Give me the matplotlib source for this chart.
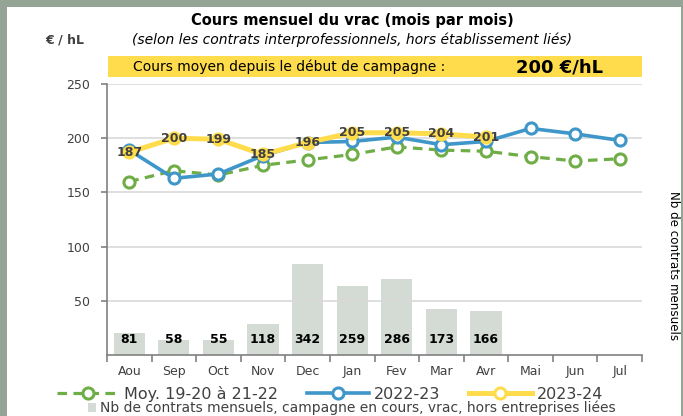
import matplotlib
matplotlib.use("Agg")
import matplotlib.pyplot as plt
from matplotlib.patches import Rectangle
from matplotlib.lines import Line2D

months = ['Aou', 'Sep', 'Oct', 'Nov', 'Dec', 'Jan', 'Fev', 'Mar', 'Avr', 'Mai', 'Jun', 'Jul']
moy_19_22 = [160, 170, 166, 175, 180, 185, 192, 189, 188, 183, 179, 181]
camp_2223 = [189, 163, 167, 184, 196, 197, 201, 194, 197, 209, 204, 198]
camp_2324 = [187, 200, 199, 185, 196, 205, 205, 204, 201]
nb_contrats = [81, 58, 55, 118, 342, 259, 286, 173, 166]
y_ticks = [50, 100, 150, 200, 250]

GREEN = '#6fad46'
BLUE = '#3f96c8'
YELLOW = '#fedc4c'
BAR = '#d4dbd4'
BORDER = '#94a596'
TXT = '#404040'

plt.rcParams['font.family'] = ['DejaVu Sans']

fig = plt.figure(figsize=(6.83, 4.16), dpi=100)
fig.patch.set_facecolor(BORDER)
fig.patches.append(Rectangle((7 / 683, 0), 674 / 683, 409 / 416, transform=fig.transFigure,
                             facecolor='white', edgecolor='none', zorder=-5))

ax = fig.add_axes([107 / 683, 61 / 416, 535 / 683, 271 / 416])
x = list(range(len(months)))

# lines
ax.plot(x, moy_19_22, color=GREEN, lw=2.3, ls=(0, (3, 2)), marker='o', ms=8,
        mfc='white', mec=GREEN, mew=2.2, zorder=3)
ax.plot(x, camp_2223, color=BLUE, lw=2.6, marker='o', ms=8,
        mfc='white', mec=BLUE, mew=2.2, zorder=4)
x24 = x[:len(camp_2324)]
ax.plot(x24, camp_2324, color=YELLOW, lw=3.6, marker='o', ms=8,
        mfc=YELLOW, mec=YELLOW, mew=2.2, zorder=5)
for xi, v in zip(x24, camp_2324):
    ax.text(xi, v, str(v), ha='center', va='center', fontsize=9, fontweight='bold',
            color=TXT, zorder=6)

ax.set_xlim(-0.5, len(months) - 0.5)
ax.set_ylim(0, 250)
ax.set_yticks(y_ticks)
ax.set_yticklabels([str(t) for t in y_ticks], fontsize=9, color=TXT)
ax.yaxis.grid(True, color='#d9d9d9', lw=1.2)
ax.set_axisbelow(True)
ax.set_xticks(x)
ax.set_xticklabels(months, fontsize=9, color=TXT)
ax.set_xticks([i - 0.5 for i in range(len(months) + 1)], minor=True)
ax.tick_params(axis='x', which='major', length=0, pad=7)
ax.tick_params(axis='x', which='minor', length=5, color='#808080', width=1.2)
ax.tick_params(axis='y', length=4, color='#808080', width=1.2, pad=8)
for s in ['top', 'right']:
    ax.spines[s].set_visible(False)
for s in ['left', 'bottom']:
    ax.spines[s].set_color('#808080')
    ax.spines[s].set_linewidth(1.2)

# bars on second axis
ax2 = ax.twinx()
xb = x[:len(nb_contrats)]
ax2.bar(xb, nb_contrats, width=0.7, color=BAR, zorder=1)
for xi, v in zip(xb, nb_contrats):
    ax2.text(xi, 60, str(v), ha='center', va='center', fontsize=9, fontweight='bold', color='black')
ax2.set_ylim(0, 1020)
ax2.set_yticks([])
for s in ax2.spines.values():
    s.set_visible(False)
ax2.set_zorder(1)
ax.set_zorder(2)
ax.patch.set_visible(False)

# titles
fig.text(352 / 683, 1 - 20 / 416, 'Cours mensuel du vrac (mois par mois)', ha='center', va='center',
         fontsize=10.5, fontweight='bold', color='black')
fig.text(352 / 683, 1 - 40 / 416, '(selon les contrats interprofessionnels, hors établissement liés)',
         ha='center', va='center', fontsize=10, style='italic', color='black')
fig.text(65 / 683, 1 - 40 / 416, '€ / hL', ha='center', va='center', fontsize=9,
         fontweight='bold', color=TXT)
fig.patches.append(Rectangle((108 / 683, 1 - 77 / 416), 534 / 683, 21 / 416, transform=fig.transFigure,
                             facecolor=YELLOW, edgecolor='none', zorder=1))
fig.text(133 / 683, 1 - 67 / 416, 'Cours moyen depuis le début de campagne :', ha='left', va='center',
         fontsize=10, color='black')
fig.text(560 / 683, 1 - 67 / 416, '200 €/hL', ha='center', va='center', fontsize=13,
         fontweight='bold', color='black')
fig.text(673 / 683, 1 - 266 / 416, 'Nb de contrats mensuels', ha='center', va='center',
         rotation=270, fontsize=8.6, color='black')

# legends
handles = [
    Line2D([], [], color=GREEN, lw=2.3, ls=(0, (3, 2)), marker='o', ms=8, mfc='white', mec=GREEN, mew=2.2),
    Line2D([], [], color=BLUE, lw=2.6, marker='o', ms=8, mfc='white', mec=BLUE, mew=2.2),
    Line2D([], [], color=YELLOW, lw=3.6, marker='o', ms=8, mfc='white', mec=YELLOW, mew=2.2),
]
fig.legend(handles, ['Moy. 19-20 à 21-22', '2022-23', '2023-24'], loc='center',
           bbox_to_anchor=(330 / 683, 1 - 394 / 416), ncol=3, frameon=False, fontsize=11.5,
           handlelength=3.9, handletextpad=0.3, columnspacing=1.8, labelcolor=TXT)
bar_handle = Rectangle((0, 0), 1, 1, facecolor=BAR, edgecolor='none')
fig.legend([bar_handle], ['Nb de contrats mensuels, campagne en cours, vrac, hors entreprises liées'],
           loc='center', bbox_to_anchor=(352 / 683, 1 - 408 / 416), frameon=False, fontsize=10,
           handlelength=0.6, handleheight=0.6, handletextpad=0.3, labelcolor=TXT)

fig.savefig('out.png', dpi=100, facecolor=fig.get_facecolor())
